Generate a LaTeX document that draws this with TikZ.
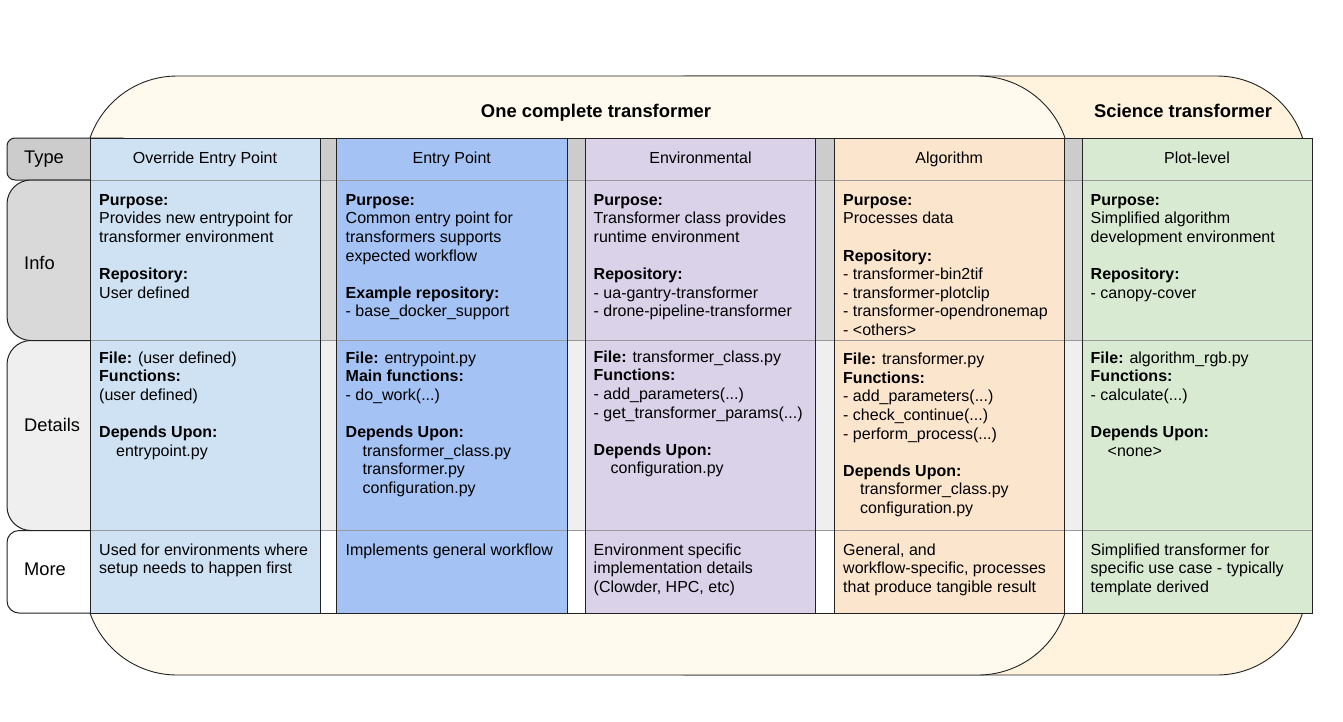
\documentclass[tikz,border=0pt]{standalone}
\usepackage{fontspec}
\setmainfont{Liberation Sans}
\definecolor{scifill}{HTML}{FFF3DD}
\definecolor{onefill}{HTML}{FFF9EE}
\definecolor{cOne}{HTML}{CFE2F3}
\definecolor{cTwo}{HTML}{A4C2F4}
\definecolor{cThree}{HTML}{D9D2E9}
\definecolor{cFour}{HTML}{FCE5CD}
\definecolor{cFive}{HTML}{D9EAD3}
\definecolor{gType}{HTML}{CCCCCC}
\definecolor{gInfo}{HTML}{D9D9D9}
\definecolor{gDet}{HTML}{EFEFEF}
\definecolor{darkline}{HTML}{222222}
\definecolor{grayline}{HTML}{999999}
\newcommand\ind{\hspace*{17pt}}
\begin{document}
\begin{tikzpicture}[x=1pt,y=-1pt,
  bigshape/.style={draw=darkline, line width=0.9pt},
  outline/.style={draw=darkline, line width=1pt},
  rowline/.style={draw=grayline, line width=1pt},
  labelbox/.style={draw=darkline, line width=1pt},
  celltext/.style={anchor=north west, inner sep=0pt, align=left, font=\fontsize{16}{18.6}\selectfont},
  typetext/.style={anchor=base, inner sep=0pt, font=\fontsize{16}{18.6}\selectfont},
  rowlabel/.style={anchor=base west, inner sep=0pt, font=\fontsize{18.3}{22}\selectfont},
  titletext/.style={anchor=base, inner sep=0pt, font=\bfseries\fontsize{18.4}{22}\selectfont}]
\useasboundingbox (0,0) rectangle (1343,721);

% group shapes
\draw[bigshape, fill=scifill, rounded corners=90pt] (600,76) rectangle (1307,675);
\draw[bigshape, fill=onefill, rounded corners=92pt] (85,76) rectangle (1070,675);
\node[titletext] (tOne) at (596,117.3) {One complete transformer};
\node[titletext] (tSci) at (1183,117.5) {Science transformer};

% row label boxes
\draw[labelbox, fill=gType, rounded corners=8pt] (7,138) rectangle (130,180);
\draw[labelbox, fill=gInfo, rounded corners=24pt] (7,180) rectangle (130,340.5);
\draw[labelbox, fill=gDet, rounded corners=24pt] (7,340.5) rectangle (130,530.5);
\draw[labelbox, fill=white, rounded corners=12pt] (7,530.5) rectangle (130,613);
\node[rowlabel] (lType) at (24,163.3) {Type};
\node[rowlabel] (lInfo) at (24,269) {Info};
\node[rowlabel] (lDet) at (24,431.5) {Details};
\node[rowlabel] (lMore) at (24,575) {More};

% column fills
\fill[cOne] (90,138) rectangle (320,613);
\fill[cTwo] (336.5,138) rectangle (567,613);
\fill[cThree] (585.5,138) rectangle (815.5,613);
\fill[cFour] (834,138) rectangle (1064.5,613);
\fill[cFive] (1082,138) rectangle (1312,613);
\foreach \a/\b in {320/336.5,567/585.5,815.5/834,1064.5/1082} {
  \fill[gType] (\a,138) rectangle (\b,180);
  \fill[gInfo] (\a,180) rectangle (\b,340.5);
  \fill[gDet] (\a,340.5) rectangle (\b,530.5);
  \fill[white] (\a,530.5) rectangle (\b,613);
}
\foreach \y in {180,340.5,530.5} \draw[rowline] (90,\y) -- (1312,\y);
\foreach \x in {320,336.5,567,585.5,815.5,834,1064.5,1082} \draw[outline] (\x,138) -- (\x,613);
\draw[outline] (90,138) rectangle (1312,613);

% type row
\node[typetext] (h1) at (205,163.3) {Override Entry Point};
\node[typetext] (h2) at (451.75,163.3) {Entry Point};
\node[typetext] (h3) at (700.5,163.3) {Environmental};
\node[typetext] (h4) at (949.25,163.3) {Algorithm};
\node[typetext] (h5) at (1197,163.3) {Plot-level};

% info row
\node[celltext] (i1) at (99,192) {\strut\textbf{Purpose:}\\ Provides new entrypoint for\\ transformer environment\\[18.6pt] \textbf{Repository:}\\ User defined};
\node[celltext] (i2) at (345.5,192) {\strut\textbf{Purpose:}\\ Common entry point for\\ transformers supports\\ expected workflow\\[18.6pt] \textbf{Example repository:}\\ - base\_docker\_support};
\node[celltext] (i3) at (593.5,192) {\strut\textbf{Purpose:}\\ Transformer class provides\\ runtime environment\\[18.6pt] \textbf{Repository:}\\ - ua-gantry-transformer\\ - drone-pipeline-transformer};
\node[celltext] (i4) at (843,192) {\strut\textbf{Purpose:}\\ Processes data\\[18.6pt] \textbf{Repository:}\\ - transformer-bin2tif\\ - transformer-plotclip\\ - transformer-opendronemap\\ - <others>};
\node[celltext] (i5) at (1090.5,192) {\strut\textbf{Purpose:}\\ Simplified algorithm\\ development environment\\[18.6pt] \textbf{Repository:}\\ - canopy-cover};

% details row
\node[celltext] (d1) at (99,350) {\strut\textbf{File:} (user defined)\\ \textbf{Functions:}\\ (user defined)\\[18.6pt] \textbf{Depends Upon:}\\ \ind entrypoint.py};
\node[celltext] (d2) at (345.5,350) {\strut\textbf{File:} entrypoint.py\\ \textbf{Main functions:}\\ - do\_work(...)\\[18.6pt] \textbf{Depends Upon:}\\ \ind transformer\_class.py\\ \ind transformer.py\\ \ind configuration.py};
\node[celltext] (d3) at (593.5,349) {\strut\textbf{File:} transformer\_class.py\\ \textbf{Functions:}\\ - add\_parameters(...)\\ - get\_transformer\_params(...)\\[18.6pt] \textbf{Depends Upon:}\\ \ind configuration.py};
\node[celltext] (d4) at (843,351.5) {\strut\textbf{File:} transformer.py\\ \textbf{Functions:}\\ - add\_parameters(...)\\ - check\_continue(...)\\ - perform\_process(...)\\[18.6pt] \textbf{Depends Upon:}\\ \ind transformer\_class.py\\ \ind configuration.py};
\node[celltext] (d5) at (1090.5,350) {\strut\textbf{File:} algorithm\_rgb.py\\ \textbf{Functions:}\\ - calculate(...)\\[18.6pt] \textbf{Depends Upon:}\\ \ind <none>};

% more row
\node[celltext] (m1) at (99,542) {\strut Used for environments where\\ setup needs to happen first};
\node[celltext] (m2) at (345.5,542) {\strut Implements general workflow};
\node[celltext] (m3) at (593.5,542) {\strut Environment specific\\ implementation details\\ (Clowder, HPC, etc)};
\node[celltext] (m4) at (843,542) {\strut General, and\\ workflow-specific, processes\\ that produce tangible result};
\node[celltext] (m5) at (1090.5,542) {\strut Simplified transformer for\\ specific use case - typically\\ template derived};
\end{tikzpicture}
\end{document}
